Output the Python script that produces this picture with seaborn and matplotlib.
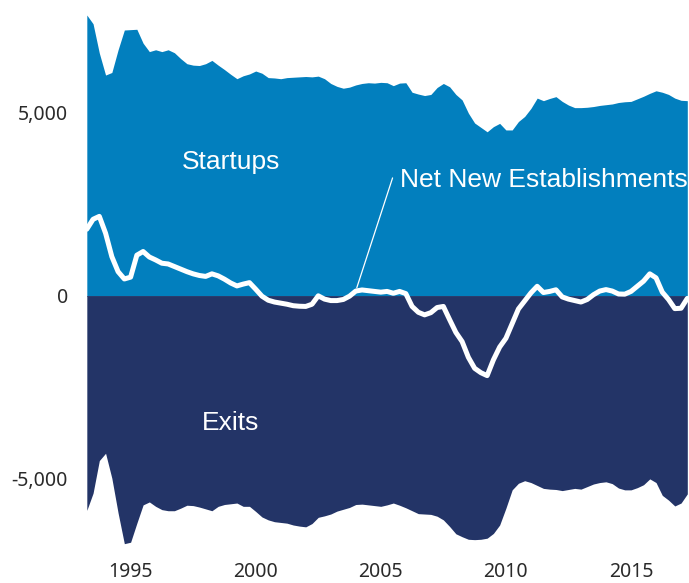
import numpy as np
import pandas as pd
import seaborn as sns
import matplotlib.pyplot as plt

# Quarterly series, 1993 Q2 .. 2017 Q2
quarters = pd.period_range('1993Q2', '2017Q2', freq='Q')

startups = [
    7670, 7430, 6630,                # 1993
    6030, 6100, 6720, 7260,          # 1994
    7270, 7280, 6900, 6670,          # 1995
    6720, 6670, 6720, 6640,          # 1996
    6480, 6340, 6300, 6290,          # 1997
    6340, 6430, 6300, 6180,          # 1998
    6050, 5930, 6010, 6060,          # 1999
    6140, 6080, 5960, 5950,          # 2000
    5930, 5960, 5970, 5980,          # 2001
    5990, 5980, 6000, 5930,          # 2002
    5800, 5720, 5670, 5700,          # 2003
    5760, 5800, 5820, 5810,          # 2004
    5830, 5820, 5740, 5810,          # 2005
    5820, 5560, 5510, 5470,          # 2006
    5500, 5690, 5800, 5710,          # 2007
    5500, 5350, 4990, 4720,          # 2008
    4600, 4480, 4620, 4710,          # 2009
    4530, 4530, 4760, 4900,          # 2010
    5120, 5400, 5330, 5390,          # 2011
    5440, 5310, 5210, 5140,          # 2012
    5140, 5150, 5170, 5200,          # 2013
    5220, 5240, 5280, 5300,          # 2014
    5310, 5380, 5450, 5530,          # 2015
    5600, 5560, 5500, 5400,          # 2016
    5340, 5330,                      # 2017
]

exits = [
    -5860, -5390, -4500,
    -4300, -4980, -5930, -6770,
    -6730, -6210, -5710, -5630,
    -5750, -5840, -5870, -5870,
    -5800, -5720, -5730, -5770,
    -5820, -5870, -5750, -5700,
    -5680, -5660, -5750, -5750,
    -5890, -6040, -6120, -6170,
    -6190, -6210, -6260, -6290,
    -6310, -6220, -6050, -6010,
    -5960, -5880, -5830, -5780,
    -5700, -5690, -5710, -5730,
    -5750, -5710, -5660, -5720,
    -5790, -5870, -5950, -5960,
    -5970, -6020, -6120, -6300,
    -6500, -6580, -6650, -6660,
    -6650, -6620, -6490, -6260,
    -5800, -5300, -5120, -5050,
    -5100, -5180, -5260, -5280,
    -5290, -5320, -5290, -5260,
    -5280, -5210, -5140, -5100,
    -5080, -5130, -5250, -5300,
    -5300, -5240, -5160, -5000,
    -5100, -5450, -5580, -5740,
    -5660, -5410,
]

net_new = [
    1820, 2090, 2170,
    1710, 1070, 660, 460,
    510, 1110, 1210, 1060,
    980, 890, 870, 800,
    730, 660, 600, 555,
    530, 600, 545, 455,
    350, 270, 320, 360,
    180, -10, -120, -170,
    -200, -230, -270, -285,
    -290, -230, 0, -90,
    -130, -130, -100, -10,
    130, 160, 140, 120,
    100, 120, 70, 120,
    60, -290, -450, -520,
    -460, -320, -290, -650,
    -1000, -1250, -1680, -1980,
    -2100, -2180, -1750, -1400,
    -1160, -760, -360, -140,
    80, 260, 90, 120,
    165, -30, -90, -130,
    -170, -100, 30, 130,
    170, 130, 50, 45,
    120, 260, 400, 600,
    490, 100, -100, -350,
    -340, -70,
]

year_ticks = [1995, 2000, 2005, 2010, 2015]
value_ticks = [-5000, 0, 5000]
value_labels = ['-5,000', '0', '5,000']

df = pd.DataFrame({
    'year': quarters.year + (quarters.quarter - 1) / 4,
    'startups': startups,
    'exits': exits,
    'net': net_new,
})

sns.set_style('white')
plt.rcParams['font.family'] = ['Noto Sans', 'DejaVu Sans']

fig = plt.figure(figsize=(6.89, 5.83), dpi=100)
ax = fig.add_axes([0.126, 0.053, 0.873, 0.942])

blue = '#027fbe'
navy = '#233467'
ax.fill_between(df['year'], 0, df['startups'], color=blue, linewidth=0)
ax.fill_between(df['year'], 0, df['exits'], color=navy, linewidth=0)
ax.axhline(0, color=navy, linewidth=0.6, zorder=1.5)
sns.lineplot(data=df, x='year', y='net', color='white', linewidth=3.6, ax=ax, zorder=3)

lab = dict(color='white', fontsize=19, family=['Liberation Sans', 'DejaVu Sans'])
ax.text(1999.0, 3660, 'Startups', ha='center', va='center', **lab)
ax.text(1999.0, -3470, 'Exits', ha='center', va='center', **lab)
ax.text(2005.76, 3170, 'Net New Establishments', ha='left', va='center', **lab)
ax.plot([2005.47, 2004.04], [3220, 220], color='white', linewidth=0.9)

ax.set_xlim(df['year'].iloc[0], df['year'].iloc[-1] + 0.04)
ax.set_ylim(-7000, 8000)
ax.set_xticks(year_ticks)
ax.set_yticks(value_ticks)
ax.set_yticklabels(value_labels)
ax.tick_params(axis='both', length=0, labelsize=14, labelcolor='#2a2a2a')
ax.tick_params(axis='y', pad=13.5)
ax.tick_params(axis='x', pad=7)
ax.set_xlabel('')
ax.set_ylabel('')
sns.despine(ax=ax, left=True, bottom=True)

fig.savefig('out.png', dpi=100)
